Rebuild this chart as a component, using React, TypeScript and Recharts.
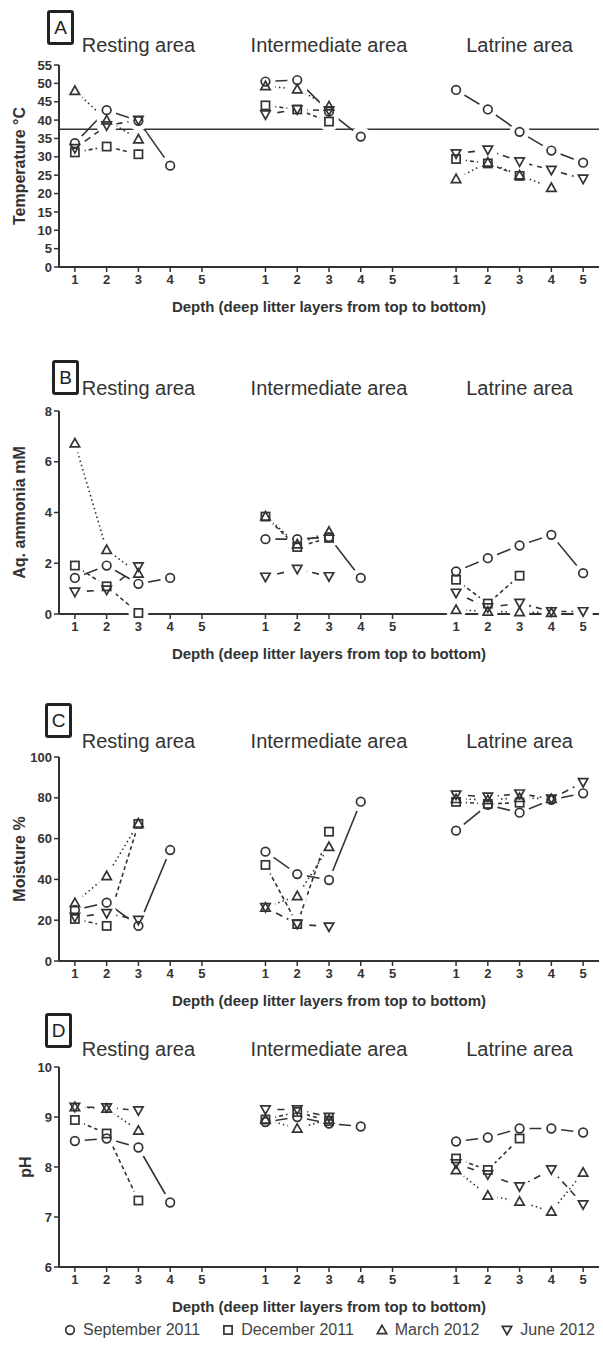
import { ComposedChart, Line, XAxis, YAxis, ReferenceLine } from 'recharts';

const FONT = '"Liberation Sans", Arial, Helvetica, sans-serif';
const INK = '#333';

// three areas on one axis, layers 1-5 each, one empty slot between areas
const xPositions = [1, 2, 3, 4, 5, 7, 8, 9, 10, 11, 13, 14, 15, 16, 17];
const xTicks = xPositions;
const areaNames = ['Resting area', 'Intermediate area', 'Latrine area'];
const areaCentres = [3, 9, 15];
const seasonNames = ['September 2011', 'December 2011', 'March 2012', 'June 2012'];

// A - temperature
const tempSep = [33.7, 42.7, 39.8, 27.6, null, 50.5, 50.9, 42.3, 35.5, null, 48.2, 42.9, 36.8, 31.7, 28.4];
const tempDec = [31.2, 32.8, 30.7, null, null, 44.0, 42.9, 39.6, null, null, 29.4, 28.2, 24.8, null, null];
const tempMar = [48.0, 40.0, 34.8, null, null, 49.3, 48.4, 43.8, null, null, 24.0, 28.5, 25.0, 21.6, null];
const tempJun = [32.3, 38.5, 40.0, null, null, 41.5, 42.9, 42.6, null, null, 30.9, 31.9, 28.7, 26.4, 24.0];
const tempTicks = [0, 5, 10, 15, 20, 25, 30, 35, 40, 45, 50, 55];
const tempLimit = 37.5;

// B - aq. ammonia
const ammSep = [1.42, 1.91, 1.19, 1.42, null, 2.95, 2.95, 3.03, 1.42, null, 1.68, 2.2, 2.7, 3.12, 1.61];
const ammDec = [1.91, 1.09, 0.04, null, null, 3.84, 2.64, 3.0, null, null, 1.35, 0.41, 1.51, null, null];
const ammMar = [6.73, 2.53, 1.6, null, null, 3.85, 2.75, 3.25, null, null, 0.17, 0.1, 0.08, 0.05, null];
const ammJun = [0.87, 0.95, 1.87, null, null, 1.46, 1.77, 1.48, null, null, 0.83, 0.25, 0.43, 0.1, 0.1];
const ammTicks = [0, 2, 4, 6, 8];

// C - moisture
const moiSep = [25, 28.6, 17.2, 54.4, null, 53.6, 42.6, 39.7, 78.1, null, 63.9, 76.5, 72.7, 79, 82.2];
const moiDec = [20.6, 17.2, 67.2, null, null, 47.1, 18.1, 63.4, null, null, 78, 77, 77.6, null, null];
const moiMar = [28.5, 41.7, 67.5, null, null, 26.3, 31.9, 56, null, null, 79.5, 79, 80, 79.5, null];
const moiJun = [21.5, 23.4, 20.1, null, null, 26.3, 18.1, 16.8, null, null, 81.5, 80.5, 82, 79.5, 87.6];
const moiTicks = [0, 20, 40, 60, 80, 100];

// D - pH
const phSep = [8.52, 8.57, 8.39, 7.29, null, 8.9, 9.0, 8.87, 8.81, null, 8.51, 8.59, 8.77, 8.77, 8.69];
const phDec = [8.94, 8.67, 7.33, null, null, 8.95, 9.1, 8.92, null, null, 8.17, 7.94, 8.57, null, null];
const phMar = [9.2, 9.17, 8.73, null, null, 8.95, 8.77, 8.95, null, null, 7.94, 7.43, 7.31, 7.11, 7.89];
const phJun = [9.2, 9.19, 9.13, null, null, 9.15, 9.15, 9.0, null, null, 8.07, 7.85, 7.61, 7.95, 7.25];
const phTicks = [6, 7, 8, 9, 10];

const seriesKeys = ['sep', 'dec', 'mar', 'jun'];
const shapes = ['circle', 'square', 'triangle', 'invtri'];
const dashes = ['', '4 3', '1.5 3', '7 5'];

const Marker = ({ shape, cx, cy }: any) => {
  const common = { fill: 'none', stroke: INK, strokeWidth: 1.7 };
  if (shape === 'circle') return <circle cx={cx} cy={cy} r={4.3} {...common} />;
  if (shape === 'square') return <rect x={cx - 4.1} y={cy - 4.1} width={8.2} height={8.2} {...common} />;
  if (shape === 'triangle')
    return <polygon points={`${cx},${cy - 4.7} ${cx + 4.7},${cy + 3.7} ${cx - 4.7},${cy + 3.7}`} {...common} />;
  return <polygon points={`${cx},${cy + 4.7} ${cx + 4.7},${cy - 3.7} ${cx - 4.7},${cy - 3.7}`} {...common} />;
};

const Panel = ({ p }: any) => {
  const data = xPositions.map((x, i) => ({
    x,
    sep: p.series[0][i],
    dec: p.series[1][i],
    mar: p.series[2][i],
    jun: p.series[3][i],
  }));
  const height = 40 + p.plotH + 50;
  return (
    <div style={{ position: 'absolute', left: 0, top: p.plotTop - 40 }}>
      <ComposedChart width={603} height={height} data={data} margin={{ top: 40, right: 4, left: 0, bottom: 0 }}>
        <XAxis
          type="number"
          dataKey="x"
          domain={[0.5, 17.5]}
          ticks={xTicks}
          interval={0}
          height={50}
          tickFormatter={(v: number) => String(((v - 1) % 6) + 1)}
          tick={{ fill: INK, fontSize: 13, fontWeight: 'bold', fontFamily: FONT }}
          tickSize={5}
          tickMargin={3}
          axisLine={{ stroke: INK, strokeWidth: 2 }}
          tickLine={{ stroke: INK, strokeWidth: 1.5 }}
          label={{
            value: 'Depth (deep litter layers from top to bottom)',
            position: 'insideBottom',
            offset: 5,
            fill: INK,
            fontSize: 15,
            fontWeight: 'bold',
            fontFamily: FONT,
          }}
        />
        <YAxis
          type="number"
          width={59}
          domain={p.domain}
          ticks={p.ticks}
          interval={0}
          tick={{ fill: INK, fontSize: 13, fontWeight: 'bold', fontFamily: FONT }}
          tickSize={5}
          tickMargin={2}
          axisLine={{ stroke: INK, strokeWidth: 2 }}
          tickLine={{ stroke: INK, strokeWidth: 1.5 }}
          label={{
            content: (lp: any) => {
              const vb = lp.viewBox;
              const cx = p.yLabelX;
              const cy = vb.y + vb.height / 2;
              return (
                <text
                  x={cx}
                  y={cy}
                  transform={`rotate(-90 ${cx} ${cy})`}
                  textAnchor="middle"
                  dominantBaseline="central"
                  fill={INK}
                  fontSize={16}
                  fontWeight="bold"
                  fontFamily={FONT}
                >
                  {p.yLabel}
                </text>
              );
            },
          }}
        />
        {seriesKeys.map((k, i) => (
          <Line
            key={'line-' + k}
            dataKey={k}
            stroke={INK}
            strokeWidth={1.6}
            strokeDasharray={dashes[i]}
            dot={false}
            activeDot={false}
            isAnimationActive={false}
          />
        ))}
        {seriesKeys.map((k) => (
          <Line
            key={'halo-' + k}
            dataKey={k}
            stroke="none"
            activeDot={false}
            isAnimationActive={false}
            dot={(d: any) =>
              d.cy == null || d.payload[k] == null ? (
                <g key={d.index} />
              ) : (
                <circle key={d.index} cx={d.cx} cy={d.cy} r={10} fill="#fff" />
              )
            }
          />
        ))}
        {seriesKeys.map((k, i) => (
          <Line
            key={'mark-' + k}
            dataKey={k}
            stroke="none"
            activeDot={false}
            isAnimationActive={false}
            dot={(d: any) =>
              d.cy == null || d.payload[k] == null ? (
                <g key={d.index} />
              ) : (
                <Marker key={d.index} shape={shapes[i]} cx={d.cx} cy={d.cy} />
              )
            }
          />
        ))}
        {p.limit != null && <ReferenceLine y={p.limit} stroke={INK} strokeWidth={1.5} />}
        {areaCentres.map((c, i) => (
          <ReferenceLine
            key={'area-' + i}
            x={c}
            stroke="none"
            label={{
              value: areaNames[i],
              position: 'top',
              offset: p.titleOffset,
              fill: INK,
              fontSize: 20,
              fontFamily: FONT,
            }}
          />
        ))}
      </ComposedChart>
      <div
        style={{
          position: 'absolute',
          left: p.boxLeft,
          top: p.boxTop - (p.plotTop - 40),
          width: 21,
          height: 29,
          border: '3px solid #222',
          borderRadius: 3,
          fontFamily: FONT,
          fontSize: 19,
          color: '#222',
          display: 'flex',
          alignItems: 'center',
          justifyContent: 'center',
          background: '#fff',
        }}
      >
        {p.letter}
      </div>
    </div>
  );
};

const panels = [
  {
    letter: 'A', yLabel: 'Temperature \u00b0C', domain: [0, 55], ticks: tempTicks,
    series: [tempSep, tempDec, tempMar, tempJun], plotTop: 65, plotH: 202,
    limit: tempLimit, titleOffset: 13, boxTop: 10, boxLeft: 47, yLabelX: 19,
  },
  {
    letter: 'B', yLabel: 'Aq. ammonia mM', domain: [0, 8], ticks: ammTicks,
    series: [ammSep, ammDec, ammMar, ammJun], plotTop: 411, plotH: 203,
    limit: null, titleOffset: 16, boxTop: 360, boxLeft: 52, yLabelX: 19,
  },
  {
    letter: 'C', yLabel: 'Moisture %', domain: [0, 100], ticks: moiTicks,
    series: [moiSep, moiDec, moiMar, moiJun], plotTop: 757, plotH: 204,
    limit: null, titleOffset: 9, boxTop: 703, boxLeft: 45, yLabelX: 19,
  },
  {
    letter: 'D', yLabel: 'pH', domain: [6, 10], ticks: phTicks,
    series: [phSep, phDec, phMar, phJun], plotTop: 1067, plotH: 200,
    limit: null, titleOffset: 11, boxTop: 1013, boxLeft: 45, yLabelX: 25,
  },
];

const LegendIcon = ({ shape }: any) => (
  <svg width={12} height={12} style={{ marginRight: 7 }}>
    <Marker shape={shape} cx={6} cy={6} />
  </svg>
);

export default function App() {
  return (
    <div style={{ position: 'absolute', left: 0, top: 0, width: 603, height: 1349, background: '#fff', overflow: 'hidden' }}>
      {panels.map((p) => (
        <Panel key={p.letter} p={p} />
      ))}
      <div
        style={{
          position: 'absolute',
          left: 64,
          top: 1321,
          display: 'flex',
          alignItems: 'center',
          gap: 22,
          fontFamily: FONT,
          fontSize: 16,
          color: '#444',
          whiteSpace: 'nowrap',
        }}
      >
        {seasonNames.map((s, i) => (
          <div key={s} style={{ display: 'flex', alignItems: 'center' }}>
            <LegendIcon shape={shapes[i]} />
            {s}
          </div>
        ))}
      </div>
    </div>
  );
}
